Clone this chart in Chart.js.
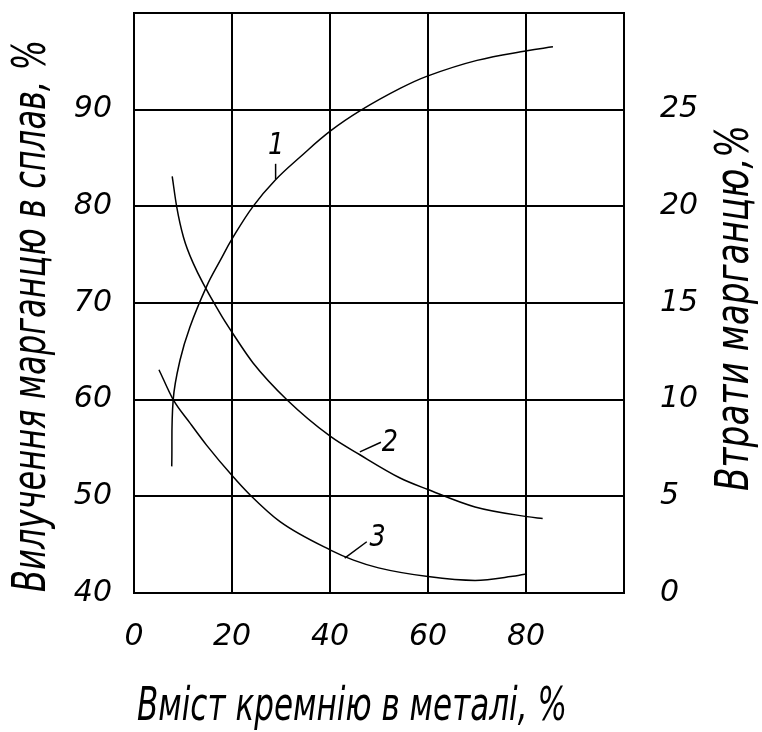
<!DOCTYPE html>
<html>
<head>
<meta charset="utf-8">
<script src="https://cdn.jsdelivr.net/npm/chart.js@4.4.1/dist/chart.umd.min.js"></script>
<style>
  html, body { margin: 0; background: #fff; }
  #wrap { width: 762px; height: 732px; }
</style>
</head>
<body>
<div id="wrap"><canvas id="chart" width="762" height="732"></canvas></div>
<script>
// values
// curve 1: recovery of manganese into alloy (left axis, %)
const siCurve1 = [7.7, 8.0, 9.4, 11.4, 14.8, 17.6, 20.1, 24.3, 28.8, 33.9, 40.1, 46.5, 54.3, 60.0, 70.0, 80.2, 85.5];
const recovery1 = [53.1, 60.0, 64.1, 67.5, 71.7, 74.4, 76.7, 80.0, 82.7, 85.1, 87.8, 90.0, 92.2, 93.5, 95.1, 96.1, 96.5];
// curves 2 and 3: manganese losses (right axis, %)
const siCurve2 = [7.8, 8.7, 10.1, 12.1, 17.6, 20.1, 24.3, 31.2, 40.1, 46.1, 54.3, 60.0, 69.6, 80.2, 83.4];
const loss2 = [21.55, 20.0, 18.4, 17.05, 14.45, 13.45, 11.9, 10.0, 8.1, 7.15, 5.95, 5.35, 4.45, 3.95, 3.85];
const siCurve3 = [5.1, 8.0, 11.4, 14.8, 20.1, 23.7, 29.8, 40.1, 44.8, 49.9, 60.0, 69.6, 76.9, 80.2];
const loss3 = [11.55, 10.0, 8.8, 7.65, 6.05, 5.07, 3.69, 2.22, 1.7, 1.3, 0.85, 0.65, 0.85, 1.0];

const xTickLabels = [0, 20, 40, 60, 80];
const leftTickLabels = [40, 50, 60, 70, 80, 90];
const rightTickLabels = [0, 5, 10, 15, 20, 25];

const xTitle = 'Вміст кремнію в металі, %';
const leftTitle = 'Вилучення марганцю в сплав, %';
const rightTitle = 'Втрати марганцю,%';

const FONT = "'DejaVu Sans', sans-serif";

// curve number callouts, in left-axis units
const callouts = [
  { text: '1', x: 29.0, y: 86.2, from: [28.9, 82.8], to: [28.9, 84.4] },
  { text: '2', x: 52.2, y: 55.5, from: [46.1, 54.6], to: [50.4, 55.6] },
  { text: '3', x: 49.7, y: 45.7, from: [43.0, 43.6], to: [47.5, 45.3] }
];

const toPoints = (xs, ys) => xs.map((x, i) => ({ x, y: ys[i] }));

// draws text squeezed to a given length, like the narrow drafting font
function narrowText(ctx, text, cx, cy, length, angle) {
  ctx.save();
  ctx.translate(cx, cy);
  ctx.rotate(angle);
  const w = ctx.measureText(text).width;
  ctx.scale(length / w, 1);
  ctx.fillText(text, 0, 0);
  ctx.restore();
}

const annotate = {
  id: 'annotate',
  afterDraw(chart) {
    const { ctx, scales: { x, y } } = chart;
    ctx.save();
    ctx.strokeStyle = '#000';
    ctx.fillStyle = '#000';
    ctx.lineWidth = 1.5;
    ctx.font = `italic 30px ${FONT}`;
    ctx.textAlign = 'center';
    ctx.textBaseline = 'middle';
    callouts.forEach(c => {
      ctx.beginPath();
      ctx.moveTo(x.getPixelForValue(c.from[0]), y.getPixelForValue(c.from[1]));
      ctx.lineTo(x.getPixelForValue(c.to[0]), y.getPixelForValue(c.to[1]));
      ctx.stroke();
      narrowText(ctx, c.text, x.getPixelForValue(c.x), y.getPixelForValue(c.y), ctx.measureText(c.text).width * 0.85, 0);
    });
    ctx.font = `italic 46px ${FONT}`;
    narrowText(ctx, xTitle, 352, 708, 430, 0);
    narrowText(ctx, leftTitle, 33, 316, 552, -Math.PI / 2);
    narrowText(ctx, rightTitle, 736, 308, 366, -Math.PI / 2);
    ctx.restore();
  }
};

const line = (data, axis, smooth) => ({
  data, yAxisID: axis,
  borderColor: '#000', borderWidth: 1.5,
  pointRadius: 0, fill: false,
  ...smooth
});

const noPad = s => { s.paddingTop = 0; s.paddingBottom = 0; s.paddingLeft = 0; s.paddingRight = 0; };

Chart.defaults.color = '#000';

new Chart(document.getElementById('chart'), {
  type: 'line',
  data: {
    datasets: [
      line(toPoints(siCurve1, recovery1), 'y', { tension: 0.4 }),
      line(toPoints(siCurve2, loss2), 'y2', { cubicInterpolationMode: 'monotone' }),
      line(toPoints(siCurve3, loss3), 'y2', { cubicInterpolationMode: 'monotone' })
    ]
  },
  options: {
    responsive: false,
    devicePixelRatio: 1,
    animation: false,
    layout: { padding: { top: 13, left: 0, right: 0, bottom: 0 } },
    plugins: { legend: { display: false }, tooltip: { enabled: false } },
    scales: {
      x: {
        type: 'linear', min: 0, max: 100,
        afterFit: s => { noPad(s); s.height = 139; },
        ticks: {
          stepSize: 20, padding: 26, maxRotation: 0,
          font: { family: FONT, size: 30, style: 'italic' },
          callback: v => xTickLabels.includes(v) ? String(v) : ''
        },
        grid: { color: '#000', lineWidth: 2, drawTicks: false },
        border: { color: '#000', width: 2 }
      },
      y: {
        position: 'left', min: 40, max: 100,
        afterFit: s => { noPad(s); s.width = 134; },
        ticks: {
          stepSize: 10, padding: 22,
          font: { family: FONT, size: 30, style: 'italic' },
          callback: v => leftTickLabels.includes(v) ? String(v) : ''
        },
        grid: { color: '#000', lineWidth: 2, drawTicks: false },
        border: { color: '#000', width: 2 }
      },
      y2: {
        position: 'right', min: 0, max: 30,
        afterFit: s => { noPad(s); s.width = 138; },
        ticks: {
          stepSize: 5, padding: 36,
          font: { family: FONT, size: 30, style: 'italic' },
          callback: v => rightTickLabels.includes(v) ? String(v) : ''
        },
        grid: { display: false, drawTicks: false },
        border: { color: '#000', width: 2 }
      }
    }
  },
  plugins: [annotate]
});
</script>
</body>
</html>
